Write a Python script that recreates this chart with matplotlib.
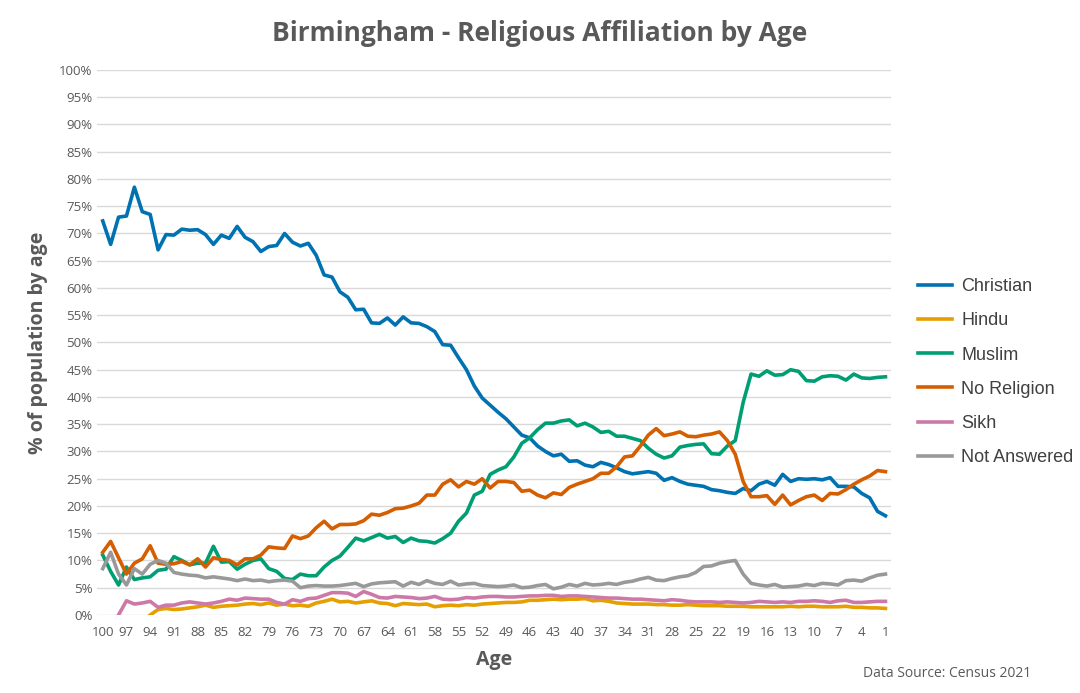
import numpy as np
import matplotlib
matplotlib.use("Agg")
import matplotlib.pyplot as plt
from matplotlib.ticker import FuncFormatter

plt.rcParams['font.family'] = ['Open Sans', 'DejaVu Sans']
nan = np.nan
ages = list(range(100, 0, -1))

christian = [72.3,68,73,73.2,78.5,74,73.5,67,69.8,69.7,
 70.8,70.6,70.7,69.8,68,69.7,69.1,71.3,69.3,68.5,
 66.7,67.6,67.8,70,68.4,67.7,68.2,66,62.4,62,
 59.3,58.3,56,56.1,53.6,53.5,54.5,53.2,54.7,53.6,
 53.5,52.9,52,49.6,49.5,47.2,45,42,39.8,38.5,
 37.2,36,34.5,33,32.5,31,30,29.2,29.5,28.2,
 28.3,27.5,27.2,28,27.6,27,26.3,25.9,26.1,26.3,
 26,24.7,25.2,24.5,24,23.8,23.6,23,22.8,22.5,
 22.3,23.2,22.8,24,24.5,23.8,25.8,24.5,25,24.9,
 25,24.8,25.2,23.6,23.6,23.5,22.3,21.5,19,18.2]
hindu = [nan,nan,nan,nan,nan,nan,0,1,1.2,1,
 1.1,1.3,1.5,1.8,1.4,1.6,1.7,1.8,2,2.1,
 1.9,2.2,1.8,2,1.7,1.8,1.6,2.2,2.5,2.9,
 2.4,2.5,2.2,2.4,2.6,2.2,2.1,1.7,2.1,2,
 1.9,2,1.5,1.7,1.8,1.7,1.9,1.8,2,2.1,
 2.2,2.3,2.3,2.4,2.7,2.7,2.8,2.9,2.8,2.9,
 2.9,3,2.6,2.7,2.5,2.2,2.1,2,2,2,
 1.9,1.9,1.8,1.8,1.9,1.8,1.7,1.7,1.7,1.6,
 1.6,1.6,1.5,1.5,1.5,1.5,1.5,1.6,1.5,1.6,
 1.6,1.5,1.5,1.5,1.6,1.4,1.4,1.3,1.3,1.2]
muslim = [11,8,5.5,8.8,6.5,6.8,7,8.2,8.4,10.7,
 10,9.2,9.5,9.5,12.6,9.7,9.8,8.4,9.3,10,
 10.3,8.5,8,6.7,6.5,7.5,7.2,7.2,8.8,10,
 10.8,12.4,14.1,13.6,14.2,14.8,14.1,14.4,13.3,14.1,
 13.6,13.5,13.2,14,15,17.2,18.7,22,22.7,25.8,
 26.6,27.2,29,31.5,32.5,34,35.2,35.2,35.6,35.8,
 34.7,35.2,34.5,33.5,33.7,32.8,32.8,32.4,32,30.6,
 29.5,28.8,29.2,30.8,31.1,31.3,31.4,29.6,29.5,31,
 32,39,44.2,43.8,44.8,44,44.1,45,44.7,43,
 42.9,43.7,43.9,43.8,43.1,44.2,43.5,43.4,43.6,43.7]
no_religion = [11.5,13.5,10.5,7.5,9.5,10.3,12.7,9.5,9.3,9.4,
 9.8,9.2,10.3,8.8,10.5,10.2,10,9.2,10.3,10.3,
 11,12.5,12.3,12.2,14.5,14,14.5,16,17.2,15.8,
 16.6,16.6,16.7,17.3,18.5,18.3,18.8,19.5,19.6,20,
 20.5,22,22,24,24.8,23.5,24.5,24,25,23.3,
 24.5,24.5,24.3,22.7,22.9,22,21.5,22.4,22.1,23.4,
 24,24.5,25,26,26,27.2,29,29.2,31,33,
 34.2,32.9,33.2,33.6,32.8,32.7,33,33.2,33.6,32,
 29.5,24.5,21.7,21.7,21.9,20.3,22,20.2,21,21.7,
 22,21,22.3,22.2,23,24,24.8,25.5,26.5,26.3]
sikh = [nan,nan,0,2.6,2,2.2,2.5,1.4,1.8,1.8,
 2.2,2.4,2.2,2,2.2,2.5,2.9,2.7,3.1,3,
 2.9,2.9,2.3,2,2.8,2.5,3,3.1,3.6,4.1,
 4.1,4,3.4,4.3,3.8,3.2,3.1,3.4,3.3,3.2,
 3,3.1,3.4,2.9,2.8,2.9,3.2,3.1,3.3,3.4,
 3.4,3.3,3.3,3.4,3.5,3.5,3.6,3.6,3.4,3.5,
 3.5,3.4,3.3,3.2,3.1,3.1,3,2.9,2.9,2.8,
 2.7,2.6,2.8,2.7,2.5,2.4,2.4,2.4,2.3,2.4,
 2.3,2.2,2.3,2.5,2.4,2.3,2.4,2.3,2.5,2.5,
 2.6,2.5,2.3,2.6,2.7,2.3,2.3,2.4,2.5,2.5]
not_answered = [8.5,11.5,7.5,5.5,8.5,7.5,9.3,10,9.5,7.8,
 7.5,7.3,7.2,6.8,7,6.8,6.6,6.3,6.6,6.3,
 6.4,6.1,6.3,6.4,6.2,5,5.3,5.4,5.3,5.3,
 5.4,5.6,5.8,5.2,5.7,5.9,6,6.1,5.3,6,
 5.6,6.3,5.8,5.6,6.2,5.5,5.7,5.8,5.4,5.3,
 5.2,5.3,5.5,5,5.1,5.4,5.6,4.8,5.1,5.6,
 5.3,5.8,5.5,5.6,5.8,5.6,6,6.2,6.6,6.9,
 6.4,6.3,6.7,7,7.2,7.8,8.9,9,9.5,9.8,
 10,7.5,5.8,5.5,5.3,5.6,5.1,5.2,5.3,5.6,
 5.4,5.8,5.7,5.5,6.3,6.4,6.2,6.8,7.3,7.5]

series = [("Christian", christian, "#0072B2"), ("Hindu", hindu, "#E69F00"),
          ("Muslim", muslim, "#009E73"), ("No Religion", no_religion, "#D55E00"),
          ("Sikh", sikh, "#CC79A7"), ("Not Answered", not_answered, "#999999")]

fig = plt.figure(figsize=(10.8, 6.93), dpi=100)
ax = fig.add_axes([0.09, 0.1126, 0.735, 0.7864])
for name, vals, c in series:
    ax.plot(ages, vals, color=c, lw=2.6, label=name, solid_joinstyle='round')

ax.set_xlim(100.7, 0.3)
ax.set_ylim(0, 100)
ax.set_xticks(list(range(100, 0, -3)))
ax.set_yticks(range(0, 101, 5))
ax.yaxis.set_major_formatter(FuncFormatter(lambda v, p: f"{int(v)}%"))
ax.grid(axis='y', color='#d9d9d9', lw=1)
ax.set_axisbelow(True)
for s in ax.spines.values():
    s.set_visible(False)
ax.tick_params(length=0, colors='#595959', labelsize=9.5)
ax.tick_params(axis='x', pad=8)
ax.set_xlabel("Age", fontsize=14, fontweight='bold', color='#595959', labelpad=8)
ax.set_ylabel("% of population by age", fontsize=14, fontweight='bold', color='#595959', labelpad=8)
fig.text(0.5, 0.952, "Birmingham - Religious Affiliation by Age", ha='center', va='center',
         fontsize=19, fontweight='bold', color='#595959')
leg = fig.legend(loc='center left', bbox_to_anchor=(0.835, 0.463), frameon=False,
                 prop={'family': ['Liberation Sans', 'DejaVu Sans'], 'size': 13},
                 handlelength=1.9, labelspacing=0.95, handletextpad=0.5)
for t in leg.get_texts():
    t.set_color('#404040')
fig.text(0.955, 0.018, "Data Source: Census 2021", ha='right', va='bottom', fontsize=10, color='#595959')
fig.savefig("out.png", dpi=100, facecolor='white')
